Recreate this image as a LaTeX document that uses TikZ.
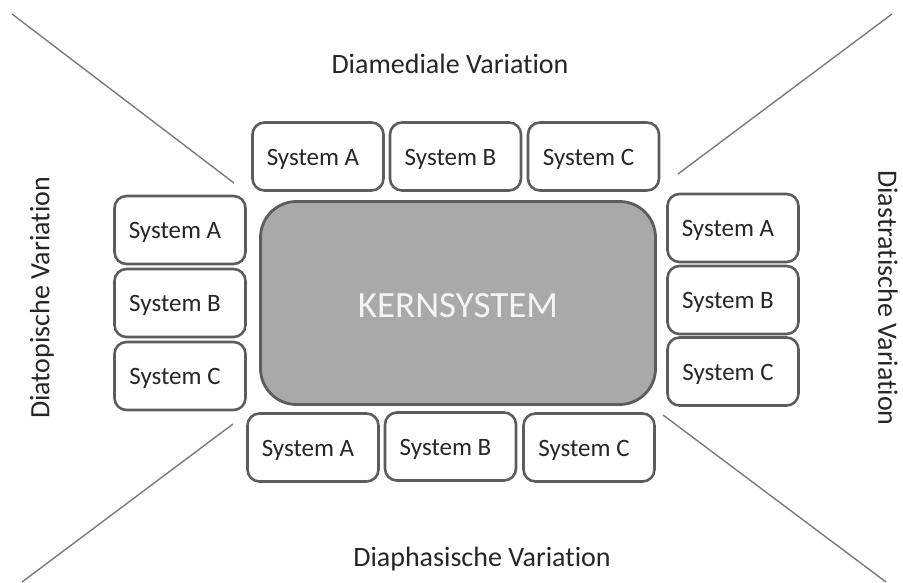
\documentclass[tikz,border=0pt]{standalone}
\usepackage{fontspec}
\setmainfont{Carlito}[Ligatures={NoCommon}]
\begin{document}
\begin{tikzpicture}[x=1pt,y=-1pt,
  sbox/.style={draw=boxline, line width=2.6pt, rounded corners=12pt, fill=white,
    minimum width=131pt, minimum height=68pt, inner sep=0pt,
    text height=17pt, text depth=0pt,
    font=\fontsize{25}{29}\selectfont, text=txt},
  kern/.style={draw=boxline, line width=2.8pt, rounded corners=36pt, fill=kernfill,
    minimum width=395pt, minimum height=203pt, inner sep=0pt,
    text height=28pt, text depth=0pt,
    font=\fontsize{37}{42}\selectfont, text=kerntext},
  vlabel/.style={font=\fontsize{28}{32}\selectfont, text=txt, inner sep=0pt},
  diag/.style={draw=diagline, line width=1.4pt}]
\definecolor{boxline}{HTML}{5C5C5C}
\definecolor{kernfill}{HTML}{A9A9AB}
\definecolor{kerntext}{HTML}{F4F4F4}
\definecolor{txt}{HTML}{262626}
\definecolor{diagline}{HTML}{7A7A7A}
\newcommand{\shl}{\hspace*{-10pt}}
\useasboundingbox (0,0) rectangle (903,582);
% diagonal lines
\coordinate (tl1) at (12,14); \coordinate (tl2) at (234,183);
\coordinate (tr1) at (892,14); \coordinate (tr2) at (678,174);
\coordinate (bl1) at (233,424); \coordinate (bl2) at (22,582);
\coordinate (br1) at (663,415); \coordinate (br2) at (886,582);
\draw[diag] (tl1) -- (tl2);
\draw[diag] (tr1) -- (tr2);
\draw[diag] (bl1) -- (bl2);
\draw[diag] (br1) -- (br2);
% kernel
\node[kern] (kern) at (458,303) {KERNSYSTEM};
% top row
\node[sbox] (tA) at (318,156.5) {\shl System A};
\node[sbox] (tB) at (455.5,156.5) {\shl System B};
\node[sbox] (tC) at (593.5,156.5) {\shl System C};
% left column
\node[sbox] (lA) at (180,230) {\shl System A};
\node[sbox] (lB) at (180,303) {\shl System B};
\node[sbox] (lC) at (180,376) {\shl System C};
% right column
\node[sbox] (rA) at (733,228) {\shl System A};
\node[sbox] (rB) at (733,300) {\shl System B};
\node[sbox] (rC) at (733,371.5) {\shl System C};
% bottom row
\node[sbox] (bA) at (313,447.5) {\shl System A};
\node[sbox] (bB) at (450.5,446.5) {\shl System B};
\node[sbox] (bC) at (589,447.5) {\shl System C};
% labels
\node[vlabel] (top) at (450,64) {Diamediale Variation};
\node[vlabel] (bot) at (482,559) {Diaphasische Variation};
\node[vlabel, rotate=90] (left) at (42,298) {Diatopische Variation};
\node[vlabel, rotate=-90] (right) at (888,298) {Diastratische Variation};
\end{tikzpicture}
\end{document}
